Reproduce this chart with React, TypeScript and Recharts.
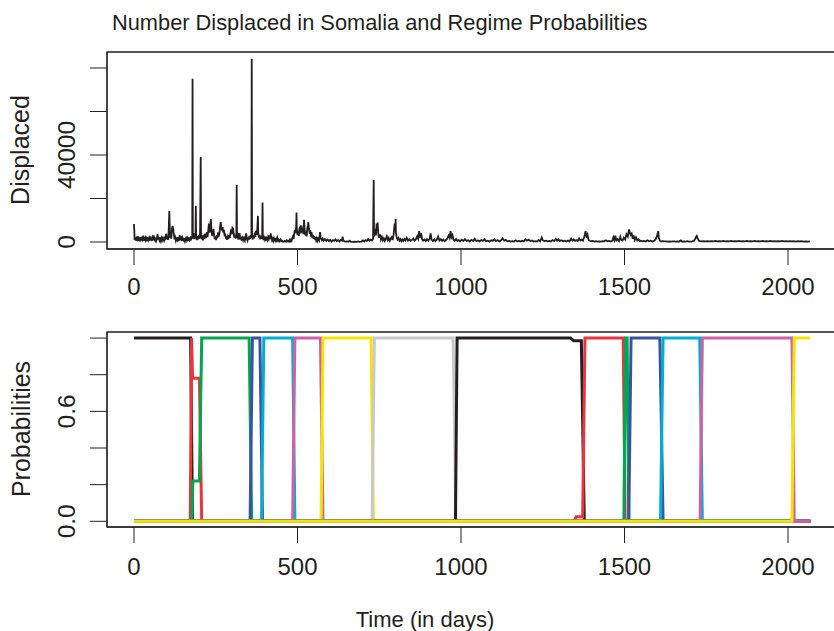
import { LineChart, Line, XAxis, YAxis, ReferenceArea } from 'recharts';

const ink = '#231F20';
const font = '"Liberation Sans", Arial, Helvetica, sans-serif';

const dayTicks = [0, 500, 1000, 1500, 2000];
const displacedTicks = [0, 20000, 40000, 60000, 80000];
const displacedLabels = [0, 40000];
const probTicks = [0, 0.2, 0.4, 0.6, 0.8, 1];
const probLabels = [0, 0.6];

// [day, number displaced]
const displaced: [number, number][] = [
  [0, 8300], [2, 900], [4, 2100], [6, 600], [8, 1800], [10, 1200], [12, 2600], [14, 500], [16, 1500], [18, 900],
  [20, 2200], [22, 700], [24, 1700], [26, 1100], [28, 2900], [30, 600], [32, 1400], [34, 2000], [36, 800], [38, 1600],
  [40, 500], [42, 2300], [44, 1000], [46, 1800], [48, 600], [50, 2500], [52, 1200], [54, 900], [56, 1900], [58, 700],
  [60, 3000], [62, 1400], [64, 800], [66, 2000], [68, 600], [70, 1500], [72, 3600], [74, 1100], [76, 2200], [78, 700],
  [80, 1300], [82, 400], [84, 1800], [86, 900], [88, 2400], [90, 1300], [92, 600], [94, 1700], [96, 900], [98, 3800],
  [100, 1500], [102, 2700], [104, 1000], [106, 5200], [108, 14300], [110, 2000], [112, 4600], [114, 1500], [116, 6300], [118, 7400],
  [120, 5800], [122, 3300], [124, 1200], [126, 2100], [128, 600], [130, 1500], [132, 900], [134, 2200], [136, 500], [138, 1400],
  [140, 3100], [142, 800], [144, 1700], [146, 600], [148, 2000], [150, 1100], [152, 700], [154, 1800], [156, 400], [158, 1300],
  [160, 2400], [162, 800], [164, 1600], [166, 500], [168, 2100], [170, 1000], [172, 1700], [174, 700], [176, 2600], [178, 1500],
  [179, 75000], [180, 2200], [182, 4100], [184, 1300], [186, 3000], [188, 1800], [189, 16700], [190, 2400], [192, 900], [194, 2700],
  [196, 1200], [198, 3300], [200, 1500], [202, 4000], [204, 39100], [205, 2500], [207, 1200], [209, 3100], [211, 800], [213, 2200],
  [215, 1400], [217, 3800], [219, 1700], [221, 2500], [223, 4500], [225, 2200], [227, 5400], [229, 8500], [231, 4300], [233, 6600],
  [235, 10600], [237, 5000], [239, 2800], [241, 4100], [243, 6000], [245, 2900], [247, 1300], [249, 2500], [251, 900], [253, 3200],
  [255, 1800], [257, 4400], [259, 2500], [261, 3700], [263, 6500], [265, 9200], [267, 6700], [269, 5200], [271, 6800], [273, 4300],
  [275, 5600], [277, 2700], [279, 3900], [281, 1500], [283, 2700], [285, 1000], [287, 2300], [289, 1400], [291, 3100], [293, 1900],
  [295, 4300], [297, 5800], [299, 3500], [301, 6600], [303, 6300], [305, 3800], [307, 2000], [309, 3400], [311, 1600], [313, 2800],
  [314, 26200], [315, 1900], [317, 4100], [319, 1100], [321, 2500], [323, 4000], [325, 1200], [327, 2300], [329, 700], [331, 1800],
  [333, 900], [335, 2500], [337, 1300], [339, 600], [341, 2100], [343, 4000], [345, 1500], [347, 700], [349, 2100], [351, 1000],
  [353, 2800], [355, 1500], [357, 3100], [359, 2000], [360, 84200], [361, 2300], [363, 1200], [365, 3000], [367, 1600], [369, 4300],
  [371, 2400], [373, 5100], [375, 3300], [377, 6100], [379, 12000], [380, 4200], [382, 2000], [384, 3300], [386, 1200], [388, 2600],
  [390, 1500], [392, 3400], [393, 18100], [394, 2200], [396, 900], [398, 2000], [400, 1100], [402, 2500], [404, 700], [406, 1600],
  [408, 900], [410, 2200], [412, 1400], [414, 3000], [416, 1300], [418, 4000], [420, 1900], [422, 800], [424, 1500], [426, 500],
  [428, 1700], [430, 900], [432, 1300], [434, 400], [436, 1100], [438, 2000], [440, 600], [442, 1000], [444, 300], [446, 800],
  [448, 1200], [450, 400], [452, 600], [454, 200], [456, 300], [458, 200], [460, 500], [462, 200], [464, 400], [466, 200],
  [468, 700], [470, 300], [472, 500], [474, 200], [476, 900], [478, 400], [480, 1100], [482, 600], [484, 1800], [486, 2500],
  [488, 1400], [490, 3800], [492, 5600], [494, 4100], [496, 7200], [497, 13500], [498, 6000], [500, 3200], [502, 5100], [504, 2800],
  [506, 6300], [508, 6800], [510, 3900], [512, 7600], [514, 4400], [516, 6100], [518, 3600], [520, 10200], [522, 5200], [524, 3000],
  [526, 4800], [528, 2600], [530, 6600], [532, 7500], [533, 9200], [535, 6100], [537, 3800], [539, 5600], [541, 2500], [543, 4500],
  [545, 2000], [547, 3300], [549, 1500], [551, 2700], [553, 1100], [555, 2300], [557, 800], [559, 1700], [561, 600], [563, 1500],
  [566, 700], [569, 4600], [571, 1800], [574, 900], [577, 1600], [580, 600], [584, 1300], [588, 500], [592, 1100], [596, 400],
  [600, 1000], [604, 300], [608, 900], [612, 500], [616, 1200], [620, 400], [624, 900], [628, 300], [632, 1000], [636, 600],
  [638, 2500], [640, 700], [644, 300], [648, 200], [652, 300], [656, 200], [660, 600], [662, 200], [668, 100], [674, 200],
  [680, 100], [686, 300], [690, 100], [696, 200], [700, 700], [704, 300], [708, 900], [712, 500], [716, 1300], [720, 600],
  [724, 1100], [728, 700], [731, 1500], [733, 28500], [734, 2600], [736, 4000], [738, 6100], [740, 3000], [742, 8500], [744, 5200],
  [745, 9000], [747, 3900], [749, 2000], [752, 3500], [755, 1200], [758, 2400], [761, 800], [764, 1700], [767, 500], [770, 1400],
  [773, 2600], [776, 900], [779, 1800], [782, 600], [785, 1500], [788, 2200], [791, 900], [794, 3600], [797, 8500], [799, 5000],
  [800, 10600], [801, 4200], [803, 2300], [806, 1100], [809, 1800], [812, 600], [815, 1300], [818, 400], [821, 1100], [824, 500],
  [827, 1400], [830, 700], [834, 1900], [838, 600], [842, 1200], [846, 500], [850, 1000], [854, 1600], [858, 600], [862, 1300],
  [866, 2600], [869, 1500], [872, 5000], [875, 2000], [878, 4000], [881, 1300], [884, 600], [888, 1100], [892, 400], [896, 1300],
  [900, 600], [904, 1500], [907, 4000], [910, 1000], [914, 500], [918, 1200], [922, 400], [926, 1000], [930, 2500], [934, 700],
  [938, 1300], [942, 500], [946, 1100], [950, 400], [954, 900], [958, 1600], [962, 3000], [965, 1900], [968, 5000], [971, 2200],
  [974, 3200], [977, 1000], [981, 600], [985, 1400], [989, 500], [993, 900], [997, 300], [1002, 1100], [1007, 500], [1012, 1300],
  [1017, 400], [1022, 800], [1027, 300], [1032, 1000], [1037, 500], [1042, 1500], [1047, 400], [1052, 700], [1057, 300], [1062, 900],
  [1067, 500], [1072, 1300], [1077, 400], [1082, 600], [1087, 200], [1092, 800], [1097, 500], [1102, 1200], [1107, 400], [1112, 900],
  [1117, 300], [1122, 700], [1127, 1700], [1132, 600], [1137, 1000], [1142, 300], [1147, 500], [1152, 200], [1157, 400], [1162, 200],
  [1167, 800], [1172, 300], [1177, 500], [1182, 200], [1187, 600], [1192, 300], [1197, 1300], [1202, 600], [1207, 1100], [1212, 400],
  [1217, 700], [1222, 200], [1227, 400], [1232, 200], [1237, 900], [1242, 300], [1247, 2100], [1250, 800], [1255, 400], [1260, 600],
  [1265, 300], [1270, 500], [1275, 200], [1280, 900], [1285, 400], [1290, 1500], [1294, 600], [1298, 1300], [1302, 400], [1307, 800],
  [1312, 300], [1317, 600], [1322, 200], [1327, 700], [1332, 300], [1337, 1500], [1341, 600], [1345, 1200], [1349, 500], [1353, 900],
  [1357, 400], [1361, 1700], [1365, 700], [1369, 1100], [1373, 600], [1377, 2500], [1381, 5000], [1384, 2000], [1387, 3300], [1390, 900],
  [1394, 600], [1398, 300], [1403, 500], [1408, 200], [1413, 400], [1418, 200], [1423, 300], [1428, 200], [1433, 400], [1438, 300],
  [1443, 800], [1448, 300], [1453, 500], [1458, 200], [1463, 600], [1466, 2200], [1469, 900], [1472, 2900], [1475, 700], [1479, 1300],
  [1483, 400], [1487, 2400], [1490, 1000], [1494, 700], [1498, 2000], [1502, 1200], [1506, 3600], [1510, 2500], [1514, 5800], [1516, 4400],
  [1519, 3200], [1522, 3900], [1525, 1500], [1528, 3000], [1531, 900], [1535, 2200], [1539, 700], [1543, 1200], [1547, 400], [1551, 600],
  [1555, 300], [1560, 500], [1565, 200], [1570, 800], [1575, 300], [1580, 600], [1585, 200], [1590, 500], [1595, 1200], [1599, 2600],
  [1603, 5000], [1605, 1800], [1608, 600], [1612, 300], [1617, 400], [1622, 300], [1627, 300], [1632, 200], [1637, 300], [1642, 200],
  [1647, 300], [1652, 300], [1657, 200], [1662, 300], [1667, 200], [1672, 700], [1676, 200], [1682, 300], [1687, 200], [1692, 400],
  [1697, 200], [1702, 200], [1707, 300], [1712, 500], [1716, 1400], [1719, 2400], [1721, 2800], [1724, 1500], [1727, 700], [1731, 400],
  [1736, 300], [1742, 400], [1748, 300], [1754, 400], [1760, 300], [1766, 400], [1772, 300], [1778, 500], [1784, 300], [1790, 400],
  [1796, 300], [1802, 500], [1808, 300], [1814, 400], [1820, 300], [1826, 500], [1832, 300], [1838, 400], [1844, 300], [1850, 500],
  [1856, 300], [1862, 400], [1868, 300], [1874, 500], [1880, 300], [1886, 400], [1892, 300], [1898, 500], [1904, 300], [1910, 400],
  [1916, 300], [1922, 500], [1928, 300], [1934, 400], [1940, 300], [1946, 500], [1952, 300], [1958, 400], [1964, 300], [1970, 400],
  [1976, 300], [1982, 500], [1988, 300], [1994, 400], [2000, 300], [2006, 400], [2012, 300], [2018, 400], [2024, 200], [2030, 400],
  [2036, 300], [2042, 400], [2048, 200], [2054, 300], [2060, 200], [2067, 300],
];

// 15 sequential regimes, [day, probability] at each change; drawn in this order
const regimePoints: [number, number][][] = [
  [[0, 1], [173, 1], [179, 0], [2068, 0]],
  [[0, 0], [172, 0], [176, 1], [179, 0.78], [200, 0.78], [207, 0], [2068, 0]],
  [[0, 0], [177, 0], [180, 0.22], [200, 0.22], [207, 1], [352, 1], [360, 0], [2068, 0]],
  [[0, 0], [355, 0], [362, 1], [385, 1], [393, 0], [2068, 0]],
  [[0, 0], [390, 0], [397, 1], [485, 1], [492, 0], [2068, 0]],
  [[0, 0], [485, 0], [492, 1], [570, 1], [578, 0], [2068, 0]],
  [[0, 0], [572, 0], [578, 1], [725, 1], [732, 0], [2068, 0]],
  [[0, 0], [728, 0], [735, 1], [976, 1], [984, 0], [2068, 0]],
  [[0, 0], [983, 0], [988, 1], [1335, 1], [1345, 0.985], [1368, 0.985], [1377, 0], [2068, 0]],
  [[0, 0], [1345, 0], [1352, 0.025], [1372, 0.025], [1379, 1], [1496, 1], [1502, 0], [2068, 0]],
  [[0, 0], [1498, 0], [1503, 1], [1508, 1], [1513, 0], [2068, 0]],
  [[0, 0], [1513, 0], [1520, 1], [1608, 1], [1618, 0], [2068, 0]],
  [[0, 0], [1610, 0], [1618, 1], [1730, 1], [1738, 0], [2068, 0]],
  [[0, 0], [1731, 0], [1738, 1], [2012, 1], [2019, 0], [2068, 0]],
  [[0, 0], [2012, 0], [2019, 1], [2068, 1]],
];

const palette = ['#231F20', '#E9363E', '#00A651', '#3953A4', '#00AECF', '#D061A8', '#F2E600', '#C9C9C9'];

const xDomain = [-82.6, 2149.8];
const topDomain = [-3218, 87356];
const probDomain = [-0.031, 1.033];

const toRows = (pts: [number, number][]) => pts.map(([d, v]) => ({ d, v }));

function rotatedTick(labels: number[], digits: number) {
  return (props: any) => {
    const { y, payload } = props;
    if (!labels.includes(payload.value)) return <g />;
    const txt = digits > 0 ? payload.value.toFixed(digits) : String(payload.value);
    return (
      <text x={67} y={y} transform={`rotate(-90 67 ${y})`} textAnchor="middle" dominantBaseline="central"
        fill={ink} fontSize={24.5} fontFamily={font}>{txt}</text>
    );
  };
}

export default function App() {
  return (
    <div style={{ position: 'absolute', left: 0, top: 0, width: 834, height: 631, overflow: 'hidden', background: '#fff', fontFamily: font }}>
      <div style={{ position: 'absolute', left: 0, top: 0 }}>
        <LineChart width={840} height={300} margin={{ top: 52, right: 3, left: 0, bottom: 0 }}>
          <XAxis dataKey="d" type="number" domain={xDomain} ticks={dayTicks} interval={0} height={51}
            tickSize={16} tickMargin={13} stroke={ink} axisLine={{ stroke: ink }} tickLine={{ stroke: ink }}
            tick={{ fontSize: 24, fill: ink, fontFamily: font }} allowDataOverflow />
          <YAxis type="number" domain={topDomain} ticks={displacedTicks} interval={0} width={107}
            tickSize={17} stroke={ink} axisLine={{ stroke: ink }} tickLine={{ stroke: ink }}
            tick={rotatedTick(displacedLabels, 0)} allowDataOverflow />
          <ReferenceArea x1={xDomain[0]} x2={xDomain[1]} y1={topDomain[0]} y2={topDomain[1]}
            fill="none" fillOpacity={0} stroke={ink} strokeWidth={1.3} ifOverflow="visible" />
          <Line data={toRows(displaced)} dataKey="v" type="linear" dot={false} activeDot={false}
            stroke={ink} strokeWidth={1.8} isAnimationActive={false} />
        </LineChart>
      </div>
      <div style={{ position: 'absolute', left: 0, top: 300 }}>
        <LineChart width={840} height={300} margin={{ top: 32, right: 3, left: 0, bottom: 0 }}>
          <XAxis dataKey="d" type="number" domain={xDomain} ticks={dayTicks} interval={0} height={73}
            tickSize={16} tickMargin={15} stroke={ink} axisLine={{ stroke: ink }} tickLine={{ stroke: ink }}
            tick={{ fontSize: 24, fill: ink, fontFamily: font }} allowDataOverflow />
          <YAxis type="number" domain={probDomain} ticks={probTicks} interval={0} width={107}
            tickSize={17} stroke={ink} axisLine={{ stroke: ink }} tickLine={{ stroke: ink }}
            tick={rotatedTick(probLabels, 1)} allowDataOverflow />
          <ReferenceArea x1={xDomain[0]} x2={xDomain[1]} y1={probDomain[0]} y2={probDomain[1]}
            fill="none" fillOpacity={0} stroke={ink} strokeWidth={1.3} ifOverflow="visible" />
          {regimePoints.map((pts, i) => (
            <Line key={i} data={toRows(pts)} dataKey="v" type="linear" dot={false} activeDot={false}
              stroke={palette[i % palette.length]} strokeWidth={3} isAnimationActive={false} />
          ))}
        </LineChart>
      </div>
      <svg width={834} height={631} style={{ position: 'absolute', left: 0, top: 0, pointerEvents: 'none' }}>
        <text x={112} y={30} fontSize={21.8} fill={ink} fontFamily={font}>Number Displaced in Somalia and Regime Probabilities</text>
        <text x={20} y={150} transform="rotate(-90 20 150)" textAnchor="middle" dominantBaseline="central" fontSize={25} fill={ink} fontFamily={font}>Displaced</text>
        <text x={21} y={429} transform="rotate(-90 21 429)" textAnchor="middle" dominantBaseline="central" fontSize={25} fill={ink} fontFamily={font}>Probabilities</text>
        <text x={425} y={627} textAnchor="middle" fontSize={22} fill={ink} fontFamily={font}>Time (in days)</text>
      </svg>
    </div>
  );
}
